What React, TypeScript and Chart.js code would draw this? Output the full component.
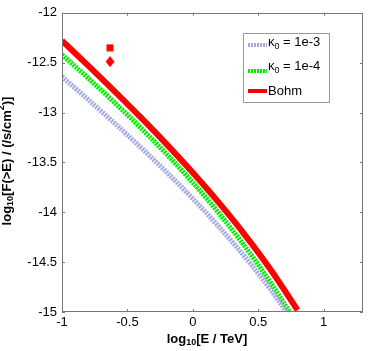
import React, { useEffect, useRef } from "react";
import { Chart, registerables } from "chart.js";

Chart.register(...registerables);

// ---- data ----
const xGrid = [-1, -0.8, -0.6, -0.4, -0.2, 0, 0.2, 0.4, 0.6, 0.8];
const yBohm = [-12.28, -12.53, -12.785, -13.047, -13.319, -13.604, -13.906, -14.231, -14.586, -14.981];
const yK4 = [-12.42, -12.655, -12.898, -13.151, -13.418, -13.703, -14.011, -14.347, -14.717, -15.127];
const yK3 = [-12.64, -12.87, -13.105, -13.347, -13.599, -13.864, -14.146, -14.451, -14.786, -15.161];

const obsX = [-0.633];
const obsSquareY = [-12.351];
const obsDiamondY = [-12.49];

const xTicks = [-1, -0.5, 0, 0.5, 1];
const yTicks = [-15, -14.5, -14, -13.5, -13, -12.5, -12];

const legendLabels = ["1e-3", "1e-4", "Bohm"];

const FONT = '"Liberation Sans", Arial, Helvetica, sans-serif';
const BLUE = "#a4a9e0";
const GREEN = "#00ee00";
const RED = "#ff0000";

type Part = { t: string; size: number; dy: number; bold?: boolean };

function measureParts(ctx: CanvasRenderingContext2D, parts: Part[]) {
  let w = 0;
  for (const p of parts) {
    ctx.font = `${p.bold ? "bold " : ""}${p.size}px ${FONT}`;
    w += ctx.measureText(p.t).width;
  }
  return w;
}

function drawParts(ctx: CanvasRenderingContext2D, parts: Part[], x: number, y: number) {
  let cx = x;
  ctx.textBaseline = "middle";
  ctx.textAlign = "left";
  for (const p of parts) {
    ctx.font = `${p.bold ? "bold " : ""}${p.size}px ${FONT}`;
    ctx.fillText(p.t, cx, y + p.dy);
    cx += ctx.measureText(p.t).width;
  }
}

function makeMarker(kind: "square" | "diamond") {
  const c = document.createElement("canvas");
  const w = kind === "square" ? 8 : 10;
  const h = kind === "square" ? 8 : 11;
  c.width = w;
  c.height = h;
  const g = c.getContext("2d")!;
  g.fillStyle = RED;
  if (kind === "square") {
    g.fillRect(0.5, 0.5, 7, 7);
  } else {
    g.beginPath();
    g.moveTo(w / 2, 0);
    g.lineTo(w - 0.5, h / 2);
    g.lineTo(w / 2, h);
    g.lineTo(0.5, h / 2);
    g.closePath();
    g.fill();
  }
  return c;
}

const decorPlugin = {
  id: "decor",
  afterDraw(chart: any) {
    const ctx: CanvasRenderingContext2D = chart.ctx;
    const a = chart.chartArea;
    const xs = chart.scales.x;
    const ys = chart.scales.y;
    ctx.save();
    // frame
    ctx.strokeStyle = "#777";
    ctx.lineWidth = 1;
    ctx.strokeRect(Math.round(a.left) + 0.5, Math.round(a.top) + 0.5, Math.round(a.right - a.left) - 1, Math.round(a.bottom - a.top) - 1);
    // inward ticks
    const tl = 3;
    ctx.beginPath();
    for (const v of xTicks) {
      const px = Math.round(xs.getPixelForValue(v)) + 0.5;
      ctx.moveTo(px, a.bottom);
      ctx.lineTo(px, a.bottom - tl);
      ctx.moveTo(px, a.top);
      ctx.lineTo(px, a.top + tl);
    }
    for (const v of yTicks) {
      const py = Math.round(ys.getPixelForValue(v)) + 0.5;
      ctx.moveTo(a.left, py);
      ctx.lineTo(a.left + tl, py);
      ctx.moveTo(a.right, py);
      ctx.lineTo(a.right - tl, py);
    }
    ctx.stroke();

    ctx.fillStyle = "#000";
    // x title
    const xt: Part[] = [
      { t: "log", size: 13, dy: 0, bold: true },
      { t: "10", size: 9, dy: 4, bold: true },
      { t: "[E / TeV]", size: 13, dy: 0, bold: true },
    ];
    const wx = measureParts(ctx, xt);
    drawParts(ctx, xt, 207 - wx / 2, 339);

    // y title
    const yt: Part[] = [
      { t: "log", size: 13, dy: 0, bold: true },
      { t: "10", size: 9, dy: 4, bold: true },
      { t: "[F(>E) / (/s/cm", size: 13, dy: 0, bold: true },
      { t: "2", size: 9, dy: -5, bold: true },
      { t: ")]", size: 13, dy: 0, bold: true },
    ];
    const wy = measureParts(ctx, yt);
    ctx.save();
    ctx.translate(7, 161);
    ctx.rotate(-Math.PI / 2);
    drawParts(ctx, yt, -wy / 2, 0);
    ctx.restore();

    // legend
    ctx.fillStyle = "#fff";
    ctx.fillRect(243, 33, 86, 69);
    ctx.strokeStyle = "#999";
    ctx.lineWidth = 1;
    ctx.strokeRect(243.5, 33.5, 86, 69);

    const entries = [
      { color: BLUE, dash: [2, 1], width: 4, ly: 45, ty: 42, kappa: true, label: legendLabels[0] },
      { color: GREEN, dash: [2, 1], width: 4, ly: 71, ty: 66, kappa: true, label: legendLabels[1] },
      { color: RED, dash: [], width: 4, ly: 91, ty: 91, kappa: false, label: legendLabels[2] },
    ];
    for (const e of entries) {
      ctx.strokeStyle = e.color;
      ctx.lineWidth = e.width;
      ctx.setLineDash(e.dash);
      ctx.beginPath();
      ctx.moveTo(248, e.ly);
      ctx.lineTo(267, e.ly);
      ctx.stroke();
      ctx.setLineDash([]);
      ctx.fillStyle = "#000";
      const parts: Part[] = e.kappa
        ? [
            { t: "\u03ba", size: 13, dy: 0 },
            { t: "0", size: 9, dy: 5 },
            { t: " = " + e.label, size: 13, dy: 0 },
          ]
        : [{ t: e.label, size: 13, dy: 0 }];
      drawParts(ctx, parts, 268, e.ty);
    }
    ctx.restore();
  },
};

function pts(xs: number[], ys: number[]) {
  return xs.map((x, i) => ({ x, y: ys[i] }));
}

export default function App() {
  const ref = useRef<HTMLCanvasElement | null>(null);
  useEffect(() => {
    if (!ref.current) return;
    const sq = makeMarker("square");
    const dm = makeMarker("diamond");
    const chart = new Chart(ref.current, {
      type: "line",
      data: {
        datasets: [
          {
            label: "κ0 = 1e-3",
            data: pts(xGrid, yK3),
            borderColor: BLUE,
            borderWidth: 5,
            borderDash: [2, 1],
            pointRadius: 0,
            cubicInterpolationMode: "monotone",
            clip: 0,
            fill: false,
          } as any,
          {
            label: "κ0 = 1e-4",
            data: pts(xGrid, yK4),
            borderColor: GREEN,
            borderWidth: 5,
            borderDash: [2, 1],
            pointRadius: 0,
            cubicInterpolationMode: "monotone",
            clip: 0,
            fill: false,
          },
          {
            label: "Bohm",
            data: pts(xGrid, yBohm),
            borderColor: RED,
            borderWidth: 6,
            pointRadius: 0,
            cubicInterpolationMode: "monotone",
            clip: 0,
            fill: false,
          },
          {
            label: "obs square",
            data: pts(obsX, obsSquareY),
            showLine: false,
            pointStyle: sq,
            pointRadius: 4,
            backgroundColor: RED,
            borderColor: RED,
            borderWidth: 0,
          },
          {
            label: "obs diamond",
            data: pts(obsX, obsDiamondY),
            showLine: false,
            pointStyle: dm,
            pointRadius: 5,
            backgroundColor: RED,
            borderColor: RED,
            borderWidth: 0,
          },
        ],
      },
      options: {
        responsive: false,
        animation: false,
        layout: { padding: { left: 0, top: 7, right: 2, bottom: 0 } },
        plugins: { legend: { display: false }, tooltip: { enabled: false } },
        scales: {
          x: {
            type: "linear",
            min: -1,
            max: 1.3,
            grid: { display: false, drawTicks: false },
            border: { display: false },
            afterBuildTicks: (s: any) => {
              s.ticks = xTicks.map((v) => ({ value: v }));
            },
            afterFit: (s: any) => {
              s.height = 39;
            },
            ticks: {
              padding: 3,
              color: "#000",
              font: { family: FONT, size: 13 },
              maxRotation: 0,
              callback: (v: any) => String(v),
            },
          },
          y: {
            type: "linear",
            min: -15,
            max: -12,
            grid: { display: false, drawTicks: false },
            border: { display: false },
            afterBuildTicks: (s: any) => {
              s.ticks = yTicks.map((v) => ({ value: v }));
            },
            afterFit: (s: any) => {
              s.width = 62;
            },
            ticks: {
              padding: 5,
              color: "#000",
              font: { family: FONT, size: 13 },
              callback: (v: any) => String(v),
            },
          },
        },
      },
      plugins: [decorPlugin],
    } as any);
    return () => chart.destroy();
  }, []);
  return (
    <div style={{ position: "absolute", left: 0, top: 0, width: 368, height: 351, background: "#fff" }}>
      <canvas ref={ref} width={368} height={351} style={{ display: "block" }} />
    </div>
  );
}
